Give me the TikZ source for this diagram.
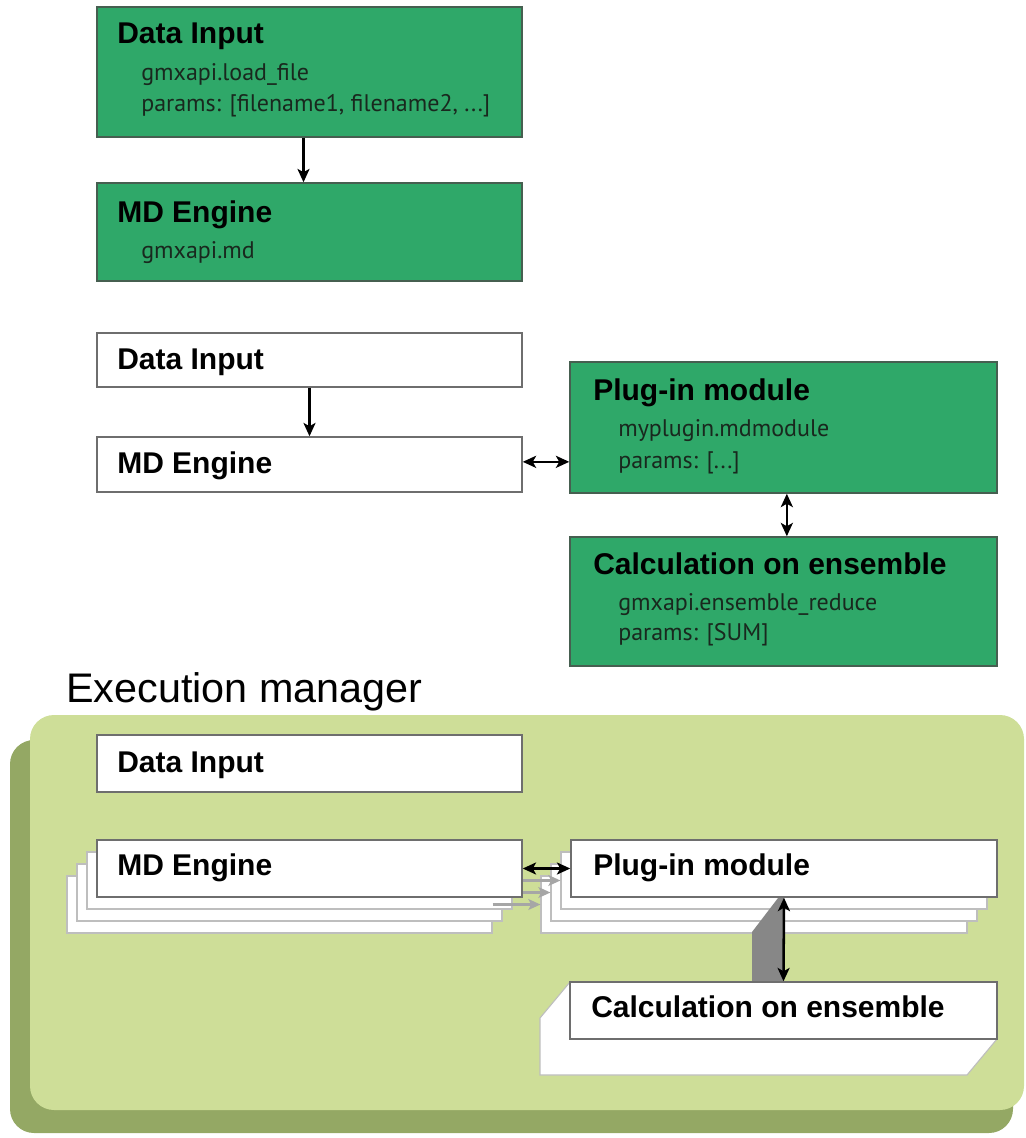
\documentclass[tikz,border=0pt]{standalone}
\usepackage{fontspec}
\setmainfont{Liberation Sans}
\newfontfamily\subfam{PT Sans}
\usetikzlibrary{arrows.meta,fit}

\definecolor{gfill}{RGB}{47,168,105}
\definecolor{gline}{RGB}{70,95,80}
\definecolor{wline}{RGB}{110,110,110}
\definecolor{ghostline}{RGB}{190,190,190}
\definecolor{panel}{RGB}{206,222,152}
\definecolor{panelshade}{RGB}{148,168,100}
\definecolor{sidegray}{RGB}{135,135,135}
\definecolor{subink}{RGB}{25,40,30}

\newcommand\ttlfnt{\fontsize{22.5}{27}\selectfont\bfseries}
\newcommand\subfnt{\subfam\fontsize{18}{22}\selectfont}
\newcommand\hdrfnt{\fontsize{31}{36}\selectfont}

\tikzset{
  gbox/.style={draw=gline, fill=gfill, line width=1.1pt, inner sep=0},
  wbox/.style={draw=wline, fill=white, line width=1.1pt, inner sep=0},
  ghost/.style={draw=ghostline, fill=white, line width=0.8pt, inner sep=0},
  ttl/.style={anchor=base west, inner sep=0, font=\ttlfnt},
  sub/.style={anchor=base west, inner sep=0, font=\subfnt, text=subink},
  tip/.tip={Stealth[length=10pt,width=9pt,inset=2.5pt]},
  arr/.style={line width=1.9pt, -tip},
  darr/.style={line width=1.9pt, tip-tip},
  garr/.style={line width=1.9pt, draw=gray!70, -{Stealth[length=9pt,width=8pt,inset=2pt,fill=gray!70]}},
}

\begin{document}
\begin{tikzpicture}[x=0.75pt,y=-0.75pt]
\useasboundingbox (0,0) rectangle (1025,1138);

% ---------- workflow specification ----------
\node[gbox, fit={(97,7) (522,137)}] (di1) {};
\node[ttl] at (117,44) {Data Input};
\node[sub] at (141,80) {gmxapi.load\_file};
\node[sub] at (141,111) {params: [filename1, filename2, ...]};

\node[gbox, fit={(97,183) (522,281)}] (md1) {};
\node[ttl] at (117,222) {MD Engine};
\node[sub] at (141,258) {gmxapi.md};

\draw[arr] ([xshift=-4.5pt]di1.south) -- ([xshift=-4.5pt]md1.north);

% ---------- extended work graph ----------
\node[wbox, fit={(97,333) (522,387)}] (di2) {};
\node[ttl] at (117,369) {Data Input};
\node[wbox, fit={(97,437) (522,492)}] (md2) {};
\node[ttl] at (117,473) {MD Engine};

\node[gbox, fit={(570,362) (997,493)}] (pl2) {};
\node[ttl] at (593,400) {Plug-in module};
\node[sub] at (618,436) {myplugin.mdmodule};
\node[sub] at (618,468) {params: [...]};

\node[gbox, fit={(570,537) (997,666)}] (ca2) {};
\node[ttl] at (593,574) {Calculation on ensemble};
\node[sub] at (618,610) {gmxapi.ensemble\_reduce};
\node[sub] at (618,640) {params: [SUM]};

\draw[arr] (di2.south) -- (md2.north);
\draw[darr] ([yshift=2pt]md2.east) -- ([yshift=2pt]md2.east -| pl2.west);
\draw[darr] ([xshift=2.5pt]pl2.south) -- ([xshift=2.5pt]ca2.north);

% ---------- execution manager ----------
\node[anchor=base west, inner sep=0, font=\hdrfnt] (hdr) at (66,702) {Execution manager};

\fill[panelshade, rounded corners=18pt] (10,740) rectangle (1013,1133);
\fill[panel, rounded corners=18pt] (30,715) rectangle (1024,1110);

\node[wbox, fit={(97,735) (522,792)}] (di3) {};
\node[ttl] at (117,772) {Data Input};

% ensemble copies behind the MD engine and the plug-in
\foreach \k in {3,2,1}{
  \node[ghost, fit={(97-10*\k,840+12*\k) (522-10*\k,897+12*\k)}] (mdc\k) {};
  \node[ghost, fit={(571-10*\k,840+12*\k) (997-10*\k,897+12*\k)}] (plc\k) {};
}
\foreach \k in {1,2,3}{
  \draw[garr] (mdc\k.east) -- (mdc\k.east -| plc\k.west);
}

\node[wbox, fit={(97,840) (522,897)}] (md3) {};
\node[ttl] at (117,875) {MD Engine};
\node[wbox, fit={(571,840) (997,897)}] (pl3) {};
\node[ttl] at (593,875) {Plug-in module};

% extruded ensemble reduction
\fill[sidegray] (752,981) -- (752,932) -- (778,898) -- (784,898) -- (784,981) -- cycle;
\draw[ghost] (570,982) -- (540,1018) -- (540,1075) -- (967,1075) -- (997,1039) -- (570,1039) -- cycle;
\node[wbox, fit={(570,982) (997,1039)}] (ca3) {};
\node[ttl] at (591,1017) {Calculation on ensemble};

\draw[darr] (md3.east) -- (md3.east -| pl3.west);
\draw[darr] (pl3.south) -- (ca3.north);
\end{tikzpicture}
\end{document}
